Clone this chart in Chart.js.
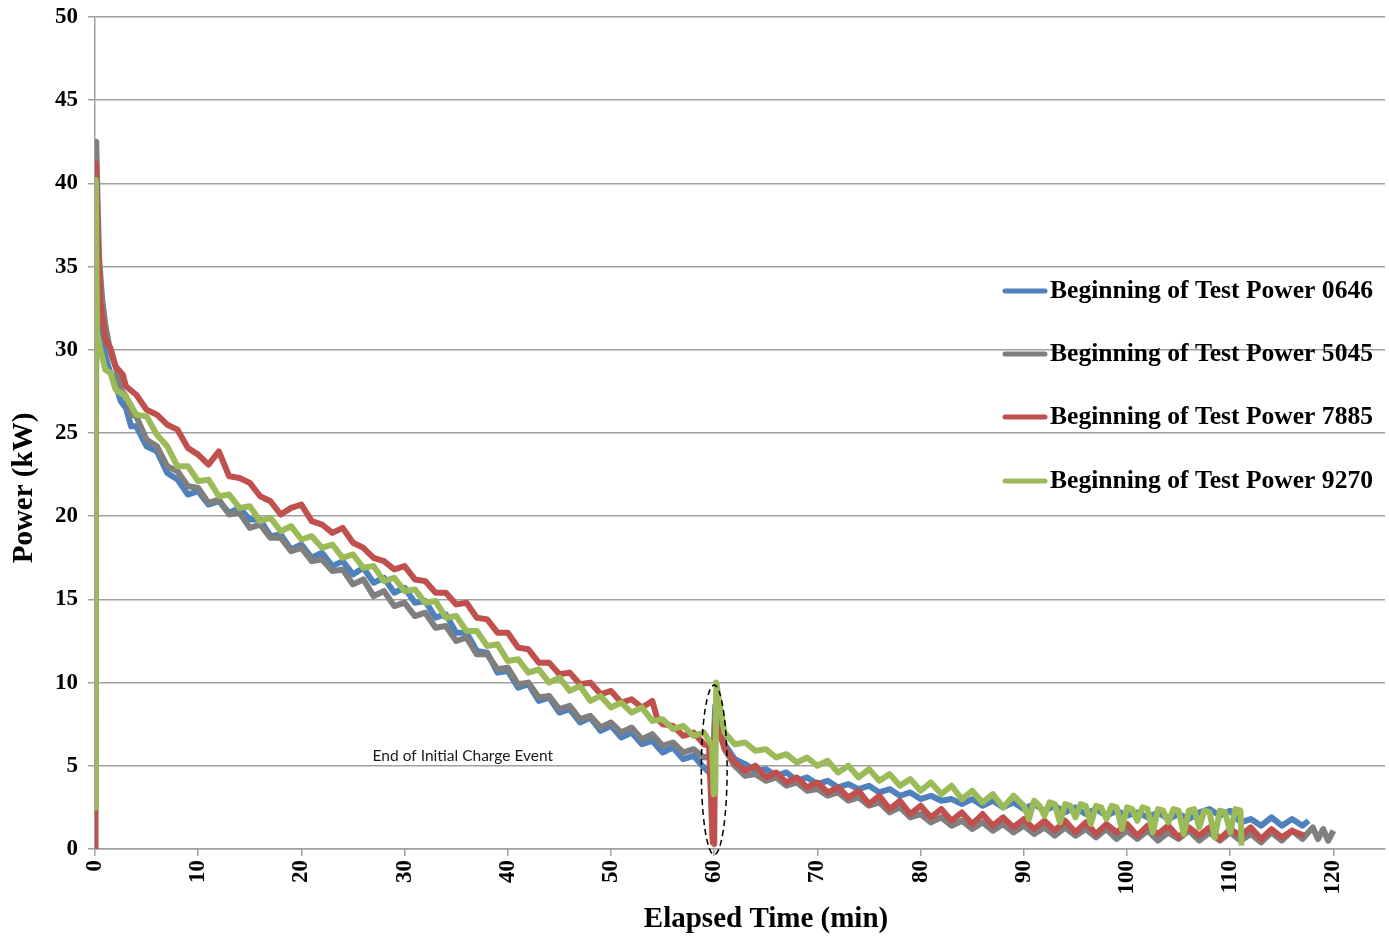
<!DOCTYPE html>
<html>
<head>
<meta charset="utf-8">
<script src="https://cdn.jsdelivr.net/npm/chart.js@4.4.0/dist/chart.umd.min.js"></script>
<style>
  body { margin: 0; background: #fff; }
  #wrap { width: 1389px; height: 937px; }
</style>
</head>
<body>
<div id="wrap"><canvas id="powerChart"></canvas></div>
<script>
// DATA  [elapsed minutes, kW]
const seriesNames = [
  "Beginning of Test Power 0646",
  "Beginning of Test Power 5045",
  "Beginning of Test Power 7885",
  "Beginning of Test Power 9270",
];
const seriesColors = ["#4F81BD", "#7F7F7F", "#C0504D", "#9BBB59"];

const power0646 = [
  [0,3],[0.15,36],[0.3,33],[0.6,31.4],[1,29.6],[1.5,28.6],[2,27.9],[2.5,26.9],[3,26.5],[3.5,25.4],[4,25.4],
  [5,24.2],[6,23.9],[7,22.6],[8,22.2],[9,21.3],[10,21.5],[11,20.7],[12,20.9],[13,20.2],[14,20.5],[15,19.8],
  [16,19.8],[17,18.8],[18,18.9],[19,18.0],[20,18.3],[21,17.5],[22,17.8],[23,17.0],[24,17.3],[25,16.5],
  [26,16.9],[27,16.0],[28,16.3],[29,15.4],[30,15.7],[31,14.8],[32,14.9],[33,13.9],[34,14.1],[35,13.0],
  [36,13.0],[37,11.9],[38,11.8],[39,10.6],[40,10.7],[41,9.7],[42,9.9],[43,8.9],[44,9.1],[45,8.2],[46,8.4],
  [47,7.6],[48,7.9],[49,7.1],[50,7.4],[51,6.7],[52,7.0],[53,6.3],[54,6.5],[55,5.8],[56,6.1],[57,5.4],
  [58,5.6],[59,4.9],[59.5,4.6],[59.9,5.4],[60.1,8.6],[60.5,7.6],[61,6.3],[62,5.4],[63,5.1],[64,4.7],
  [65,4.8],[66,4.4],[67,4.6],[68,4.1],[69,4.3],[70,3.9],[71,4.1],[72,3.7],[73,3.9],[74,3.6],[75,3.8],
  [76,3.4],[77,3.6],[78,3.2],[79,3.4],[80,3.0],[81,3.2],[82,2.9],[83,3.0],[84,2.7],[85,3.0],[86,2.6],
  [87,2.9],[88,2.5],[89,2.8],[90,2.4],[91,2.7],[92,2.3],[93,2.6],[94,2.2],[95,2.5],[96,2.1],[97,2.4],
  [98,2.0],[99,2.3],[100,2.0],[101,2.2],[102,1.9],[103,2.2],[104,1.8],[105,2.1],[106,1.8],[107,2.2],
  [108,2.4],[109,2.0],[110,2.3],[111,1.6],[112,1.8],[113,1.4],[114,1.9],[115,1.4],[116,1.8],[117,1.4],
  [117.6,1.7],
];

const power5045 = [
  [0,2],[0.12,42.5],[0.25,39],[0.4,35.5],[0.7,33],[1,31.5],[1.5,29.8],[2,29.0],[2.5,27.6],[3,27.2],
  [3.5,26.1],[4,26.0],[5,24.6],[6,24.2],[7,23.0],[8,22.7],[9,21.8],[10,21.7],[11,20.8],[12,21.0],[13,20.1],
  [14,20.2],[15,19.3],[16,19.5],[17,18.7],[18,18.7],[19,17.9],[20,18.1],[21,17.3],[22,17.4],[23,16.7],
  [24,16.8],[25,15.9],[26,16.2],[27,15.2],[28,15.5],[29,14.6],[30,14.8],[31,14.0],[32,14.2],[33,13.3],
  [34,13.4],[35,12.5],[36,12.7],[37,11.7],[38,11.7],[39,10.8],[40,10.9],[41,9.9],[42,10.0],[43,9.1],
  [44,9.2],[45,8.4],[46,8.6],[47,7.8],[48,8.0],[49,7.3],[50,7.6],[51,7.0],[52,7.3],[53,6.6],[54,6.9],
  [55,6.2],[56,6.4],[57,5.8],[58,6.0],[59,5.5],[59.9,5.6],[60.1,8.0],[60.5,7.2],[61,6.0],[62,5.0],
  [63,4.4],[64,4.5],[65,4.1],[66,4.3],[67,3.8],[68,4.0],[69,3.5],[70,3.6],[71,3.2],[72,3.4],[73,2.9],
  [74,3.1],[75,2.6],[76,2.8],[77,2.2],[78,2.5],[79,1.9],[80,2.1],[81,1.6],[82,1.9],[83,1.4],[84,1.7],
  [85,1.2],[86,1.6],[87,1.1],[88,1.5],[89,1.0],[90,1.4],[91,0.9],[92,1.3],[93,0.8],[94,1.3],[95,0.8],
  [96,1.2],[97,0.7],[98,1.2],[99,0.6],[100,1.1],[101,0.6],[102,1.1],[103,0.5],[104,1.0],[105,0.6],
  [106,1.1],[107,0.5],[108,1.0],[109,0.5],[110,1.0],[111,0.5],[112,0.9],[113,0.4],[114,1.0],[115,0.5],
  [116,1.1],[117,0.6],[118,1.3],[118.5,0.6],[119,1.2],[119.5,0.5],[120,1.1],
];

const power7885 = [
  [0,0],[0.05,2],[0.1,41.2],[0.3,36],[0.5,33],[0.8,31.6],[1,30.6],[1.5,30.1],[2,29.0],[2.7,28.5],[3,27.8],
  [4,27.3],[5,26.4],[6,26.1],[7,25.5],[8,25.2],[9,24.1],[10,23.7],[11,23.1],[12,23.9],[13,22.4],[14,22.3],
  [15,22.0],[16,21.2],[17,20.9],[18,20.1],[19,20.5],[20,20.7],[21,19.7],[22,19.5],[23,19.0],[24,19.3],
  [25,18.4],[26,18.1],[27,17.5],[28,17.3],[29,16.8],[30,17.0],[31,16.2],[32,16.1],[33,15.4],[34,15.4],
  [35,14.7],[36,14.8],[37,13.9],[38,13.8],[39,13.0],[40,13.0],[41,12.1],[42,12.0],[43,11.2],[44,11.2],
  [45,10.5],[46,10.6],[47,9.9],[48,10.0],[49,9.3],[50,9.5],[51,8.8],[52,9.0],[53,8.5],[54,8.9],[54.5,7.8],
  [55,7.5],[56,7.4],[57,6.8],[58,7.0],[59,6.3],[59.5,6.2],[59.85,0.4],[60.0,0.3],[60.1,7.6],[60.4,7.2],
  [61,6.1],[62,5.2],[63,4.7],[64,5.0],[65,4.3],[66,4.6],[67,4.0],[68,4.3],[69,3.7],[70,4.0],[71,3.4],
  [72,3.7],[73,3.1],[74,3.5],[75,2.7],[76,3.2],[77,2.4],[78,2.9],[79,2.1],[80,2.6],[81,1.9],[82,2.4],
  [83,1.7],[84,2.2],[85,1.5],[86,2.1],[87,1.4],[88,1.9],[89,1.3],[90,1.8],[91,1.2],[92,1.7],[93,1.1],
  [94,1.7],[95,1.0],[96,1.6],[97,0.9],[98,1.5],[99,1.0],[100,1.5],[101,0.8],[102,1.4],[103,0.9],
  [104,1.4],[105,0.7],[106,1.3],[107,0.8],[108,1.3],[109,0.6],[110,1.2],[111,0.8],[112,1.3],[113,0.6],
  [114,1.2],[115,0.7],[116,1.1],[117.2,0.8],
];

const power9270 = [
  [0,2.5],[0.08,40.2],[0.2,31],[0.5,30.1],[1,28.8],[1.5,28.6],[2,27.6],[3,27.2],[4,26.1],[5,26.0],
  [6,24.9],[7,24.2],[8,23.0],[9,23.0],[10,22.1],[11,22.2],[12,21.2],[13,21.3],[14,20.5],[15,20.6],
  [16,19.7],[17,19.9],[18,19.1],[19,19.4],[20,18.6],[21,18.8],[22,18.1],[23,18.3],[24,17.5],[25,17.7],
  [26,16.9],[27,17.0],[28,16.1],[29,16.3],[30,15.5],[31,15.6],[32,14.8],[33,14.9],[34,13.9],[35,14.0],
  [36,13.1],[37,13.1],[38,12.2],[39,12.3],[40,11.3],[41,11.4],[42,10.6],[43,10.8],[44,10.0],[45,10.3],
  [46,9.5],[47,9.8],[48,8.9],[49,9.2],[50,8.5],[51,8.8],[52,8.2],[53,8.5],[54,7.7],[55,7.8],[56,7.2],
  [57,7.4],[58,6.8],[59,7.0],[59.8,6.2],[59.95,3.3],[60.1,3.4],[60.2,10.0],[60.5,8.8],[61,7.0],[62,6.3],
  [63,6.4],[64,5.9],[65,6.0],[66,5.5],[67,5.7],[68,5.2],[69,5.5],[70,5.0],[71,5.3],[72,4.6],[73,5.0],
  [74,4.3],[75,4.8],[76,4.1],[77,4.5],[78,3.8],[79,4.2],[80,3.5],[81,4.0],[82,3.3],[83,3.8],[84,3.0],
  [85,3.5],[86,2.8],[87,3.3],[88,2.5],[89,3.2],[90,2.6],[90.5,1.8],[91,2.9],[91.5,2.6],[92,2.0],
  [92.5,2.8],[93,2.7],[93.5,1.6],[94,2.7],[94.5,2.6],[95,1.9],[95.5,2.7],[96,2.6],[96.5,1.5],[97,2.6],
  [97.5,2.5],[98,1.8],[98.5,2.6],[99,2.5],[99.5,1.2],[100,2.5],[100.5,2.4],[101,1.7],[101.5,2.5],
  [102,2.4],[102.5,1.0],[103,2.4],[103.5,2.3],[104,1.6],[104.5,2.4],[105,2.3],[105.5,0.9],[106,2.3],
  [106.5,2.4],[107,1.3],[107.5,2.3],[108,2.2],[108.5,0.7],[109,2.3],[109.5,2.2],[110,1.0],[110.5,2.4],
  [111,2.3],[111.1,0.2],
];

const seriesData = [power0646, power5045, power7885, power9270];
const xTickValues = [0, 10, 20, 30, 40, 50, 60, 70, 80, 90, 100, 110, 120];

// annotation (in data units)
const noteText = "End of Initial Charge Event";
const notePos = [26.9, 5.6];
const ringCenter = [60, 4.75];
const ringRadius = [1.25, 5.1];

const axisGray = "#A0A0A0";
const serifBold = (px) => `bold ${px}px "Liberation Serif", "Times New Roman", serif`;

// EXTRAS: legend inside plot, axis titles, annotation
const extras = {
  id: "extras",
  afterDatasetsDraw(chart) {
    const { ctx, scales: { x, y } } = chart;
    const cx = x.getPixelForValue(ringCenter[0]);
    const cy = y.getPixelForValue(ringCenter[1]);
    const rx = x.getPixelForValue(ringCenter[0] + ringRadius[0]) - cx;
    const ry = cy - y.getPixelForValue(ringCenter[1] + ringRadius[1]);
    ctx.save();
    ctx.beginPath();
    ctx.ellipse(cx, cy, rx, ry, 0, 0, Math.PI * 2);
    ctx.setLineDash([6, 4]);
    ctx.lineWidth = 1.5;
    ctx.strokeStyle = "#000";
    ctx.stroke();
    ctx.setLineDash([]);
    ctx.fillStyle = "#1a1a1a";
    ctx.font = '15.5px Lato, "Open Sans", sans-serif';
    ctx.textBaseline = "middle";
    ctx.textAlign = "left";
    ctx.fillText(noteText, x.getPixelForValue(notePos[0]), y.getPixelForValue(notePos[1]), 184);
    ctx.restore();
  },
  afterDraw(chart) {
    const { ctx } = chart;
    ctx.save();
    // legend
    const rows = [291, 354, 417, 481];
    ctx.font = serifBold(26);
    ctx.textBaseline = "middle";
    ctx.textAlign = "left";
    seriesNames.forEach((name, i) => {
      ctx.beginPath();
      ctx.moveTo(1005, rows[i]);
      ctx.lineTo(1045, rows[i]);
      ctx.lineWidth = 5;
      ctx.lineCap = "round";
      ctx.strokeStyle = seriesColors[i];
      ctx.stroke();
      ctx.fillStyle = "#000";
      ctx.fillText(name, 1050, rows[i], 323);
    });
    // axis titles
    ctx.font = serifBold(29);
    ctx.textAlign = "center";
    ctx.fillText("Elapsed Time (min)", 766, 920);
    ctx.translate(25, 488);
    ctx.rotate(-Math.PI / 2);
    ctx.fillText("Power (kW)", 0, 0);
    ctx.restore();
  },
};

// CHART
new Chart(document.getElementById("powerChart"), {
  type: "line",
  data: {
    datasets: seriesData.map((d, i) => ({
      label: seriesNames[i],
      data: d,
      borderColor: seriesColors[i],
      backgroundColor: seriesColors[i],
      borderWidth: 6,
      borderJoinStyle: "round",
      pointRadius: 0,
      tension: 0,
      order: 4 - i,
    })),
  },
  options: {
    responsive: true,
    maintainAspectRatio: false,
    animation: false,
    layout: { padding: { top: 17, right: 4, left: 0, bottom: 0 } },
    plugins: { legend: { display: false }, tooltip: { enabled: false } },
    scales: {
      x: {
        type: "linear",
        min: 0,
        max: 125,
        afterBuildTicks: (s) => {
          s.ticks = xTickValues.map((v) => ({ value: v }));
        },
        afterFit: (s) => {
          s.height = 88;
        },
        ticks: {
          minRotation: 90,
          maxRotation: 90,
          padding: 4,
          color: "#000",
          font: { family: '"Liberation Serif", serif', size: 23, weight: "bold" },
        },
        grid: { drawOnChartArea: false, tickLength: 7, color: axisGray, lineWidth: 1.5 },
        border: { color: axisGray, width: 1.5 },
      },
      y: {
        min: 0,
        max: 50,
        afterFit: (s) => {
          s.width = 95;
          s.paddingTop = 0;
          s.paddingBottom = 0;
        },
        ticks: {
          stepSize: 5,
          padding: 10,
          color: "#000",
          font: { family: '"Liberation Serif", serif', size: 23, weight: "bold" },
        },
        grid: { tickLength: 7, color: axisGray, lineWidth: 1.5 },
        border: { color: axisGray, width: 1.5 },
      },
    },
  },
  plugins: [extras],
});
</script>
</body>
</html>
